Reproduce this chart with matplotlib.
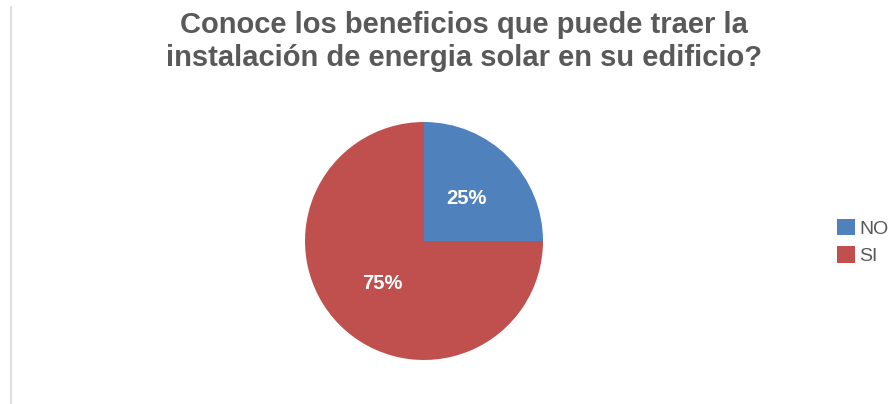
import matplotlib
matplotlib.use("Agg")
import matplotlib.pyplot as plt
from matplotlib.patches import Patch
from matplotlib.lines import Line2D

# data
labels = ["NO", "SI"]
values = [25, 75]
colors = ["#4F81BD", "#C0504D"]
title = "Conoce los beneficios que puede traer la\ninstalación de energia solar en su edificio?"

W, H = 894, 404
fig = plt.figure(figsize=(W / 100, H / 100), dpi=100)
plt.rcParams["font.family"] = ["Liberation Sans", "DejaVu Sans"]

# light frame line on the left
fig.add_artist(Line2D([11 / W, 11 / W], [0, 1 - 7 / H], color="#D9D9D9", lw=1.2))

cx, cy, r = 424, 241, 119
ax = fig.add_axes([(cx - r) / W, (H - cy - r) / H, 2 * r / W, 2 * r / H])
wedges, texts, autotexts = ax.pie(
    values, colors=colors, startangle=90, counterclock=False,
    autopct="%d%%", pctdistance=0.5, radius=1,
    textprops=dict(color="white", fontsize=14.5, fontweight="bold"),
)
ax.set_xlim(-1, 1)
ax.set_ylim(-1, 1)
ax.set_aspect("equal")
ax.axis("off")

fig.text(464 / W, 1 - 11 / H, title, ha="center", va="top",
         fontsize=21, fontweight="bold", color="#595959", linespacing=1.25)

handles = [Patch(facecolor=c, edgecolor="none") for c in colors]
fig.legend(handles, labels, loc="center left", bbox_to_anchor=(837 / W, 1 - 242 / H),
           frameon=False, fontsize=14, handlelength=0.93, handleheight=0.93,
           handletextpad=0.2, labelspacing=0.45, borderpad=0, borderaxespad=0)
for t in fig.legends[0].get_texts():
    t.set_color("#595959")

fig.savefig("out.png", dpi=100)
